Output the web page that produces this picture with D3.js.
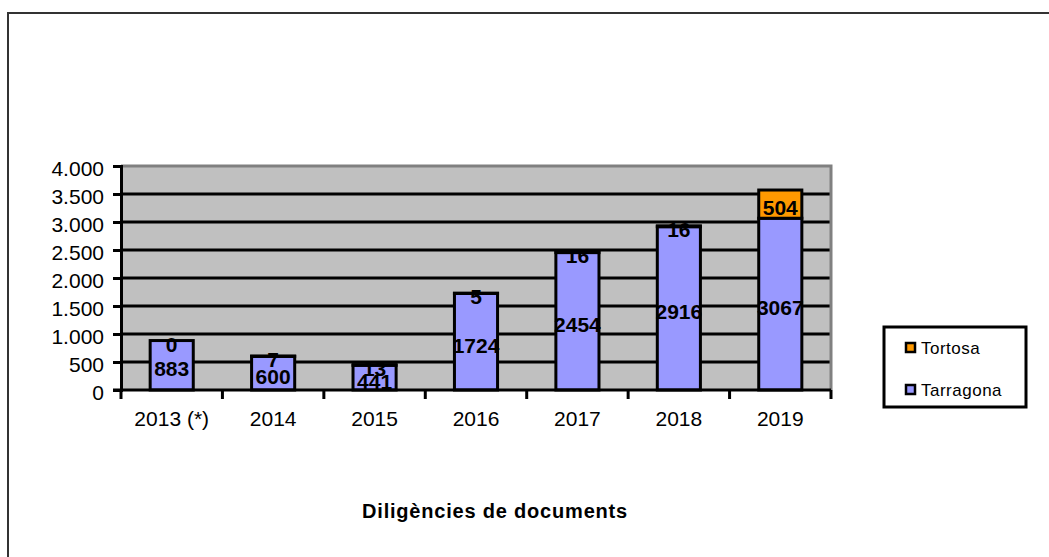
<!DOCTYPE html>
<html lang="ca">
<head>
<meta charset="UTF-8">
<title>Diligències de documents</title>
<script src="https://cdn.jsdelivr.net/npm/d3@7/dist/d3.min.js"></script>
<style>
  body { margin: 0; background: #fff; }
  svg text { font-family: "Liberation Sans", Arial, sans-serif; }
</style>
</head>
<body>
<div id="chart"></div>
<script>
var years = ["2013 (*)", "2014", "2015", "2016", "2017", "2018", "2019"];
var tarragona = [883, 600, 441, 1724, 2454, 2916, 3067];
var tortosa = [0, 7, 13, 5, 16, 16, 504];
var yTicks = [0, 500, 1000, 1500, 2000, 2500, 3000, 3500, 4000];
var seriesNames = ["Tarragona", "Tortosa"];
var seriesColors = ["#9999ff", "#ff9900"];

var W = 1049, H = 557;
var svg = d3.select("#chart").append("svg")
    .attr("width", W)
    .attr("height", H);

// outer chart frame
svg.append("rect")
    .attr("x", 8).attr("y", 13)
    .attr("width", W + 10).attr("height", H + 10)
    .style("fill", "#fff")
    .attr("stroke", "#333")
    .attr("stroke-width", 2);

var pLeft = 121, pRight = 831, pTop = 166, pBottom = 390;

var x = d3.scaleBand()
    .domain(years)
    .range([pLeft, pRight])
    .paddingInner(0.575)
    .paddingOuter(0.2875);

var y = d3.scaleLinear()
    .domain([0, 4000])
    .range([pBottom, pTop]);

// plot background
svg.append("rect")
    .attr("x", pLeft).attr("y", pTop)
    .attr("width", pRight - pLeft).attr("height", pBottom - pTop)
    .style("fill", "#c0c0c0");

// gridlines
svg.selectAll(".grid")
    .data(yTicks.filter(function (d) { return d > 0 && d < 4000; }))
    .enter().append("line")
    .attr("x1", pLeft).attr("x2", pRight)
    .attr("y1", function (d) { return y(d); })
    .attr("y2", function (d) { return y(d); })
    .attr("stroke", "#000")
    .attr("stroke-width", 3);

// grey top/right plot border
svg.append("path")
    .attr("d", "M" + pLeft + "," + pTop + "H" + pRight + "V" + pBottom)
    .attr("fill", "none")
    .attr("stroke", "#808080")
    .attr("stroke-width", 3);

// stacked bars
var stack = d3.stack().keys([0, 1]).value(function (d, k) { return d[k]; });
var rows = years.map(function (yr, i) { return [tarragona[i], tortosa[i]]; });
var layers = stack(rows);

layers.forEach(function (layer, si) {
    svg.selectAll(".bar" + si)
        .data(layer)
        .enter().append("rect")
        .attr("x", function (d, i) { return x(years[i]); })
        .attr("width", x.bandwidth())
        .attr("y", function (d) { return y(d[1]); })
        .attr("height", function (d) { return y(d[0]) - y(d[1]); })
        .style("fill", seriesColors[si])
        .attr("stroke", "#000")
        .attr("stroke-width", 3);
});

// value labels
layers.forEach(function (layer, si) {
    svg.selectAll(".lbl" + si)
        .data(layer)
        .enter().append("text")
        .attr("x", function (d, i) { return x(years[i]) + x.bandwidth() / 2; })
        .attr("y", function (d) { return y((d[0] + d[1]) / 2) + 11; })
        .attr("text-anchor", "middle")
        .style("font-size", "21px")
        .style("font-weight", "bold")
        .style("fill", "#000")
        .text(function (d) { return d[1] - d[0]; });
});

// y axis
var yAxis = d3.axisLeft(y)
    .tickValues(yTicks)
    .tickSize(8)
    .tickPadding(9)
    .tickFormat(function (d) { return d3.format(",")(d).replace(/,/g, "."); });

var gy = svg.append("g")
    .attr("transform", "translate(" + pLeft + ",0)")
    .call(yAxis);
gy.select(".domain").attr("stroke", "#000").attr("stroke-width", 3);
gy.selectAll(".tick line").attr("stroke", "#000").attr("stroke-width", 3);
gy.selectAll(".tick text")
    .attr("y", 3)
    .style("font-size", "21px")
    .style("fill", "#000");

// x axis
var gx = svg.append("g")
    .attr("transform", "translate(0," + pBottom + ")");
gx.append("line")
    .attr("x1", pLeft - 8).attr("x2", pRight)
    .attr("stroke", "#000").attr("stroke-width", 3);
var bounds = d3.range(years.length + 1).map(function (i) { return pLeft + i * x.step(); });
gx.selectAll(".xt")
    .data(bounds)
    .enter().append("line")
    .attr("x1", function (d) { return d; })
    .attr("x2", function (d) { return d; })
    .attr("y1", 0).attr("y2", 9)
    .attr("stroke", "#000").attr("stroke-width", 3);
gx.selectAll(".xl")
    .data(years)
    .enter().append("text")
    .attr("x", function (d) { return x(d) + x.bandwidth() / 2; })
    .attr("y", 36)
    .attr("text-anchor", "middle")
    .style("font-size", "21px")
    .style("fill", "#000")
    .text(function (d) { return d; });

// title
svg.append("text")
    .attr("x", 495).attr("y", 518)
    .attr("text-anchor", "middle")
    .style("font-size", "20px")
    .style("font-weight", "bold")
    .style("letter-spacing", "0.8px")
    .text("Diligències de documents");

// legend
var lg = svg.append("g");
lg.append("rect")
    .attr("x", 884).attr("y", 327)
    .attr("width", 142).attr("height", 80)
    .style("fill", "#fff")
    .attr("stroke", "#000")
    .attr("stroke-width", 3);
var legendItems = [1, 0];
legendItems.forEach(function (si, i) {
    var cy = 348 + i * 42;
    lg.append("rect")
        .attr("x", 906).attr("y", cy - 5)
        .attr("width", 9).attr("height", 9)
        .style("fill", seriesColors[si])
        .attr("stroke", "#000")
        .attr("stroke-width", 2.5);
    lg.append("text")
        .attr("x", 921).attr("y", cy + 6)
        .style("font-size", "17px")
        .style("letter-spacing", "0.5px")
        .style("fill", "#000")
        .text(seriesNames[si]);
});
</script>
</body>
</html>
